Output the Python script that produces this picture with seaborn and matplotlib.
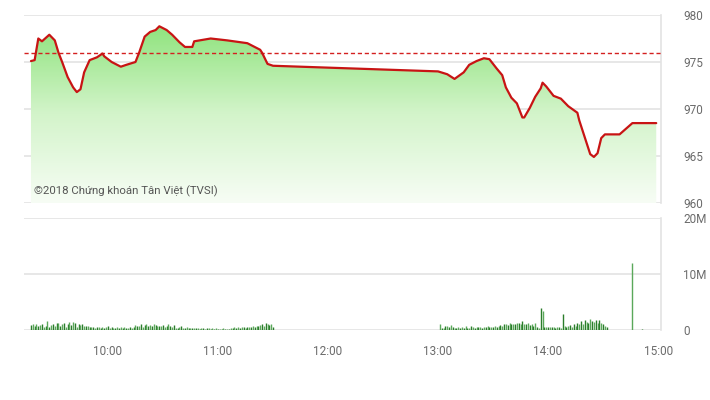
import numpy as np
import pandas as pd
import matplotlib
matplotlib.use("Agg")
import matplotlib.pyplot as plt
import seaborn as sns
from matplotlib.colors import LinearSegmentedColormap
from matplotlib.patches import PathPatch

# ---------------- data ----------------
price_times = ["09:18", "09:20", "09:22", "09:24", "09:28", "09:31", "09:33", "09:35", "09:38", "09:41",
               "09:43", "09:45", "09:47", "09:50", "09:54", "09:57", "09:58", "10:02", "10:07", "10:10",
               "10:15", "10:17", "10:20", "10:23", "10:26", "10:28", "10:32", "10:35", "10:39", "10:42",
               "10:46", "10:47", "10:56", "11:05", "11:16", "11:23", "11:24", "11:27", "11:30", "13:00",
               "13:05", "13:09", "13:14", "13:17", "13:21", "13:25", "13:28", "13:32", "13:35", "13:37",
               "13:40", "13:43", "13:46", "13:47", "13:50", "13:53", "13:56", "13:57", "13:59", "14:03",
               "14:07", "14:11", "14:16", "14:17", "14:20", "14:23", "14:25", "14:27", "14:29", "14:31",
               "14:39", "14:46", "14:59"]
price_values = [975.1, 975.2, 977.5, 977.2, 977.9, 977.3, 976.0, 975.0, 973.4, 972.3,
                971.8, 972.1, 973.9, 975.2, 975.5, 975.9, 975.6, 975.0, 974.5, 974.7,
                975.0, 976.0, 977.7, 978.2, 978.4, 978.8, 978.4, 977.9, 977.1, 976.6,
                976.6, 977.2, 977.5, 977.3, 977.0, 976.3, 976.0, 974.8, 974.6, 974.0,
                973.7, 973.2, 973.9, 974.7, 975.1, 975.4, 975.3, 974.3, 973.6, 972.3,
                971.2, 970.6, 969.1, 969.1, 970.1, 971.3, 972.2, 972.8, 972.4, 971.4,
                971.1, 970.3, 969.6, 968.8, 967.0, 965.2, 964.9, 965.3, 966.9, 967.3,
                967.3, 968.5, 968.5]
reference_price = 976.0

# volume (millions), one bar per minute
morning_start = "09:18"
morning_vol = [0.9, 1.0, 0.8, 1.1, 0.7, 0.9, 1.0, 0.6, 0.8, 1.6,
               0.5, 0.9, 1.0, 0.7, 1.2, 1.3, 0.8, 1.1, 1.2, 0.6,
               1.0, 1.4, 0.9, 1.5, 1.3, 0.6, 1.0, 0.9, 1.1, 0.8,
               0.7, 0.8, 0.6, 0.5, 0.6, 0.4, 0.5, 0.6, 0.4, 0.5,
               0.4, 0.5, 0.7, 0.4, 0.6, 0.3, 0.4, 0.5, 0.3, 0.6,
               0.3, 0.5, 0.4, 0.3, 0.6, 0.4, 0.5, 0.9, 0.8, 0.7,
               1.0, 0.6, 0.9, 1.1, 0.8, 0.9, 0.7, 1.0, 0.9, 0.8,
               0.8, 0.7, 0.9, 0.6, 0.8, 1.0, 0.7, 0.5, 0.9, 0.4,
               0.3, 0.6, 0.8, 0.4, 0.3, 0.5, 0.4, 0.3, 0.4, 0.3,
               0.4, 0.3, 0.2, 0.4, 0.3, 0.2, 0.3, 0.4, 0.2, 0.3,
               0.2, 0.3, 0.2, 0.1, 0.2, 0.3, 0.2, 0.1, 0.2, 0.3,
               0.4, 0.5, 0.4, 0.5, 0.4, 0.6, 0.5, 0.4, 0.6, 0.5,
               0.6, 0.7, 0.6, 0.8, 0.7, 0.9, 1.1, 0.8, 1.2, 1.0,
               0.9, 1.0, 0.5]
afternoon_start = "13:01"
afternoon_vol = [1.0, 0.4, 0.3, 0.7, 0.8, 0.5, 0.9, 0.6, 0.4, 0.3,
                 0.5, 0.4, 0.6, 0.3, 0.7, 0.4, 0.3, 0.8, 0.5, 0.4,
                 0.6, 0.5, 0.6, 0.4, 0.6, 0.5, 0.7, 0.6, 0.5, 0.6,
                 0.7, 0.6, 0.8, 0.9, 0.7, 1.0, 1.1, 0.9, 1.2, 1.0,
                 1.1, 1.0, 1.2, 1.3, 1.0, 1.6, 1.1, 1.0, 1.2, 0.9,
                 1.0, 0.8, 1.3, 0.6, 0.4, 4.0, 3.4, 0.6, 0.5, 0.6,
                 0.5, 0.6, 0.5, 0.4, 0.6, 0.5, 0.3, 2.9, 0.7, 0.6,
                 0.8, 0.9, 0.6, 1.0, 0.8, 1.3, 1.1, 1.6, 1.0, 1.7,
                 1.5, 1.3, 1.9, 1.6, 1.4, 1.7, 1.3, 1.8, 1.2, 1.0,
                 0.8, 0.6]
closing_times = ["14:46", "14:51"]
closing_vol = [11.9, 0.25]

price_ticks = [960, 965, 970, 975, 980]
volume_ticks = [0, 10, 20]
volume_tick_labels = ["0", "10M", "20M"]
time_ticks = ["10:00", "11:00", "12:00", "13:00", "14:00", "15:00"]
watermark = "©2018 Chứng khoán Tân Việt (TVSI)"


def to_min(t):
    h, m = t.split(":")
    return (int(h) - 9) * 60 + int(m)


price_df = pd.DataFrame({"t": [to_min(t) for t in price_times], "price": price_values})
vol_t = ([to_min(morning_start) + i for i in range(len(morning_vol))]
         + [to_min(afternoon_start) + i for i in range(len(afternoon_vol))]
         + [to_min(t) for t in closing_times])
vol_v = morning_vol + afternoon_vol + closing_vol
vol_df = pd.DataFrame({"t": vol_t, "vol": vol_v})

# ---------------- style ----------------
sns.set_style("white")
plt.rcParams["font.family"] = ["Roboto", "DejaVu Sans"]

W, H = 710, 400
fig = plt.figure(figsize=(W / 100, H / 100), dpi=100)
fig.patch.set_facecolor("white")

left, right = 24 / W, 661 / W
ax = fig.add_axes([left, 1 - 203 / H, right - left, (203 - 15) / H])
axv = fig.add_axes([left, 1 - 330 / H, right - left, (330 - 218) / H])

xmin, xmax = 14.2, 361.6
grid_c = "#e3e3e3"
text_c = "#6b6b6b"

# ---- price panel ----
ax.set_xlim(xmin, xmax)
ax.set_ylim(960, 980)
for v in price_ticks:
    ax.axhline(v, color=grid_c, lw=1.2, zorder=0)

poly = ax.fill_between(price_df["t"], price_df["price"], 960, facecolor="none", edgecolor="none")
cmap = LinearSegmentedColormap.from_list("g", ["#f7fdf5", "#d3f4ca", "#8ee37c"])
grad = np.linspace(0, 1, 256).reshape(-1, 1)
im = ax.imshow(grad, extent=[xmin, xmax, 960, 979], aspect="auto", origin="lower",
               cmap=cmap, zorder=1)
clip = PathPatch(poly.get_paths()[0], transform=ax.transData, facecolor="none", edgecolor="none")
ax.add_patch(clip)
im.set_clip_path(clip)

ax.axhline(reference_price, color="#d42020", lw=1.0, ls=(0, (3, 2)), zorder=3)
sns.lineplot(data=price_df, x="t", y="price", ax=ax, color="#c81414", linewidth=1.6, zorder=4)
ax.set_xlabel("")
ax.set_ylabel("")
ax.set_xticks([])
ax.yaxis.tick_right()
ax.set_yticks(price_ticks)
ax.set_yticklabels([str(v) for v in price_ticks])
ax.tick_params(axis="y", length=0, pad=16, labelsize=8.5, labelcolor=text_c)
for s in ["left", "top", "bottom"]:
    ax.spines[s].set_visible(False)
ax.spines["right"].set_color(grid_c)
ax.spines["right"].set_linewidth(1.2)
ax.text(0.015, 0.03, watermark, transform=ax.transAxes, fontsize=8.2, color="#555555",
        ha="left", va="bottom", zorder=5)

# ---- volume panel ----
axv.set_xlim(xmin, xmax)
axv.set_ylim(0, 20)
for v in volume_ticks:
    axv.axhline(v, color=grid_c, lw=1.2, zorder=0)
colors = ["#2b7d2b" if i % 2 == 0 else "#5aa85a" for i in range(len(vol_df))]
axv.vlines(vol_df["t"], 0, vol_df["vol"], colors=colors, linewidth=1.0, zorder=2)
axv.yaxis.tick_right()
axv.set_yticks(volume_ticks)
axv.set_yticklabels(volume_tick_labels)
axv.tick_params(axis="y", length=0, pad=16, labelsize=8.5, labelcolor=text_c)
axv.set_xticks([to_min(t) for t in time_ticks])
axv.set_xticklabels(time_ticks)
axv.tick_params(axis="x", length=6, width=1, color="#d8d8d8", pad=5, labelsize=8.5,
                labelcolor=text_c)
for s in ["left", "top", "bottom"]:
    axv.spines[s].set_visible(False)
axv.spines["right"].set_color(grid_c)
axv.spines["right"].set_linewidth(1.2)

fig.savefig("out.png", dpi=100, facecolor="white")
